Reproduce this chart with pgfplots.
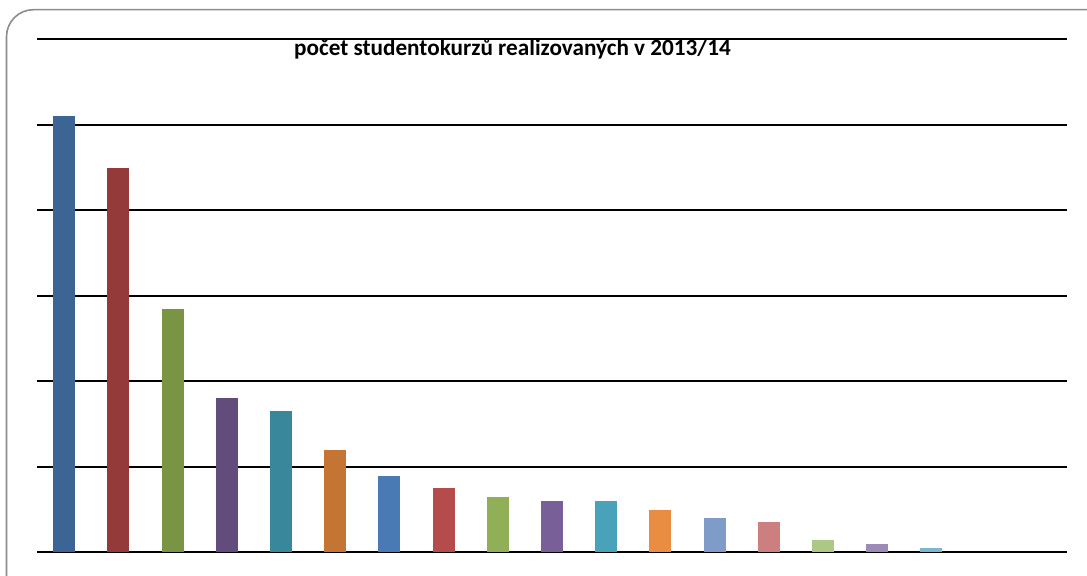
\documentclass[border=0pt]{standalone}
\usepackage{pgfplots}
\pgfplotsset{compat=1.18}
\usepackage{fontspec}
\setmainfont{Carlito}
\definecolor{c1}{HTML}{3C6495}
\definecolor{c2}{HTML}{953A3A}
\definecolor{c3}{HTML}{799443}
\definecolor{c4}{HTML}{624C7C}
\definecolor{c5}{HTML}{38879A}
\definecolor{c6}{HTML}{C47534}
\definecolor{c7}{HTML}{4A7AB3}
\definecolor{c8}{HTML}{B34C4A}
\definecolor{c9}{HTML}{91AF57}
\definecolor{c10}{HTML}{785F98}
\definecolor{c11}{HTML}{48A3BA}
\definecolor{c12}{HTML}{E88D42}
\definecolor{c13}{HTML}{7F9CC9}
\definecolor{c14}{HTML}{CC7F7E}
\definecolor{c15}{HTML}{ADC784}
\definecolor{c16}{HTML}{9E8AB7}
\definecolor{c17}{HTML}{79B8CF}
\begin{document}
\begin{tikzpicture}[x=0.5pt,y=0.5pt]
\useasboundingbox (0,0) rectangle (1087,576);
\clip (0,0) rectangle (1087,576);
\draw[color={rgb,255:red,140;green,140;blue,140}, line width=0.8pt, rounded corners=13.5pt] (6.5,566.3) rectangle (1115,-30);
\coordinate (O) at (37,23.7);
\begin{axis}[
  at={(O)}, anchor=south west,
  scale only axis, width=515pt, height=256.65pt,
  xmin=-0.5, xmax=18.5, ymin=0, ymax=6,
  ybar, 
  axis line style={draw=none},
  tick style={draw=none},
  xtick=\empty,
  ytick={0,1,2,3,4,5,6}, yticklabels={},
  ymajorgrids,
  major grid style={black, line width=1pt},
  mybar/.style={fill=#1, draw=none, bar width=11pt, bar shift=0pt},
]
\addplot[mybar=c1] coordinates {(0,5.10)};
\addplot[mybar=c2] coordinates {(1,4.49)};
\addplot[mybar=c3] coordinates {(2,2.84)};
\addplot[mybar=c4] coordinates {(3,1.80)};
\addplot[mybar=c5] coordinates {(4,1.65)};
\addplot[mybar=c6] coordinates {(5,1.196)};
\addplot[mybar=c7] coordinates {(6,0.89)};
\addplot[mybar=c8] coordinates {(7,0.75)};
\addplot[mybar=c9] coordinates {(8,0.65)};
\addplot[mybar=c10] coordinates {(9,0.60)};
\addplot[mybar=c11] coordinates {(10,0.60)};
\addplot[mybar=c12] coordinates {(11,0.49)};
\addplot[mybar=c13] coordinates {(12,0.40)};
\addplot[mybar=c14] coordinates {(13,0.35)};
\addplot[mybar=c15] coordinates {(14,0.144)};
\addplot[mybar=c16] coordinates {(15,0.097)};
\addplot[mybar=c17] coordinates {(16,0.05)};
\end{axis}
\node[font=\bfseries\fontsize{11.6}{13}\selectfont, anchor=base] at (512.5,520.5) {počet studentokurzů realizovaných v 2013/14};
\end{tikzpicture}
\end{document}
